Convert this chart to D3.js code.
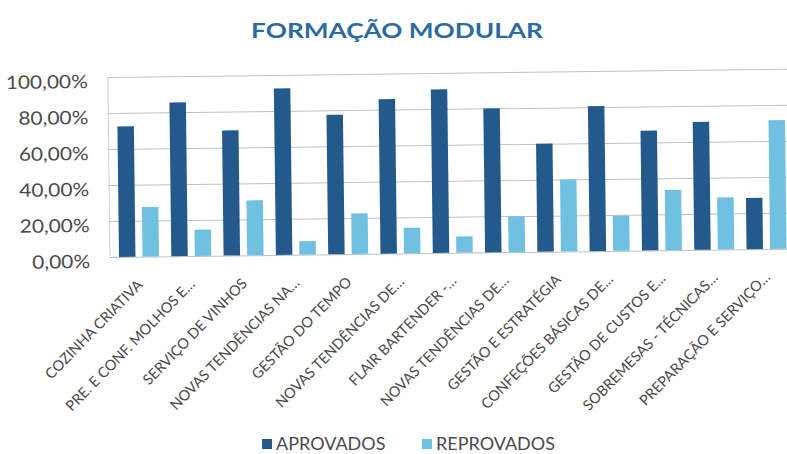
<!DOCTYPE html>
<html>
<head>
<meta charset="utf-8">
<script src="https://cdn.jsdelivr.net/npm/d3@7"></script>
<style>
  html, body { margin: 0; padding: 0; background: #ffffff; }
  svg { display: block; }
</style>
</head>
<body>
<script>
// Course modules and the share of trainees approved / failed in each
const categories = [
  "COZINHA CRIATIVA",
  "PRE. E CONF. MOLHOS E…",
  "SERVIÇO DE VINHOS",
  "NOVAS TENDÊNCIAS NA…",
  "GESTÃO DO TEMPO",
  "NOVAS TENDÊNCIAS DE…",
  "FLAIR BARTENDER -…",
  "NOVAS TENDÊNCIAS DE…",
  "GESTÃO E ESTRATÉGIA",
  "CONFEÇÕES BÁSICAS DE…",
  "GESTÃO DE CUSTOS E…",
  "SOBREMESAS - TÉCNICAS…",
  "PREPARAÇÃO E SERVIÇO…"
];
const aprovados  = [0.725, 0.854, 0.695, 0.925, 0.775, 0.858, 0.909, 0.800, 0.600, 0.805, 0.665, 0.710, 0.285];
const reprovados = [0.275, 0.146, 0.305, 0.075, 0.225, 0.142, 0.091, 0.200, 0.400, 0.195, 0.335, 0.290, 0.715];
const seriesNames = ["APROVADOS", "REPROVADOS"];
const yTicks = [0, 0.2, 0.4, 0.6, 0.8, 1.0];
const chartTitle = "FORMAÇÃO MODULAR";

const W = 787, H = 454;
const colors = { APROVADOS: "#245a8b", REPROVADOS: "#70c0e1" };
const font = "Lato, 'Open Sans', sans-serif";
const textColor = "#4a4a4a";

const ptLocale = d3.formatLocale({ decimal: ",", thousands: ".", grouping: [3], currency: ["", " €"], percent: "%" });
const fmtPct = ptLocale.format(".2%");

const svg = d3.select("body").append("svg")
  .attr("width", W).attr("height", H);

// the whole chart sits on a slight tilt
const root = svg.append("g").attr("transform", "rotate(-0.7, 110, 257)");

const plot = { left: 111, top: 77, bottom: 257, step: 52.3 };
const idx = d3.range(categories.length);

const x0 = d3.scaleBand()
  .domain(idx)
  .range([plot.left, plot.left + plot.step * categories.length])
  .padding(0);

const x1 = d3.scaleBand()
  .domain(seriesNames)
  .range([8, 48])
  .paddingInner(0.3);

const y = d3.scaleLinear().domain([0, 1]).range([plot.bottom, plot.top]);

// plot frame and gridlines
root.append("line")
  .attr("x1", plot.left - 1).attr("x2", plot.left - 1)
  .attr("y1", y(1)).attr("y2", y(0))
  .attr("stroke", "#cdd1d8").attr("stroke-width", 1);

const yAxis = d3.axisLeft(y)
  .tickValues(yTicks)
  .tickFormat(fmtPct)
  .tickSize(-(W + 20 - plot.left))
  .tickPadding(20);

const yg = root.append("g")
  .attr("transform", `translate(${plot.left - 1},0)`)
  .call(yAxis);
yg.select(".domain").remove();
yg.selectAll(".tick line").attr("stroke", "#bcc1c9").attr("stroke-width", 1);
yg.selectAll(".tick text")
  .attr("font-family", font)
  .attr("font-size", 18.5)
  .attr("fill", textColor)
  .attr("x", 0)
  .attr("dy", "0.55em")
  .attr("transform", "translate(-20,0) scale(1.13,1)");

// grouped bars
const rows = idx.map(i => ({ i, APROVADOS: aprovados[i], REPROVADOS: reprovados[i] }));

const groups = root.append("g").selectAll("g")
  .data(rows)
  .join("g")
  .attr("transform", d => `translate(${x0(d.i)},0)`);

groups.selectAll("rect")
  .data(d => seriesNames.map(k => ({ k, v: d[k] })))
  .join("rect")
  .attr("x", d => x1(d.k))
  .attr("width", x1.bandwidth())
  .attr("y", d => y(d.v))
  .attr("height", d => y(0) - y(d.v))
  .attr("fill", d => colors[d.k]);

// category axis with rotated labels
const xAxis = d3.axisBottom(x0)
  .tickFormat(i => categories[i])
  .tickSize(0)
  .tickPadding(0);

const xg = root.append("g")
  .attr("transform", `translate(0,${plot.bottom})`)
  .call(xAxis);
xg.select(".domain").remove();
xg.selectAll(".tick text")
  .attr("font-family", font)
  .attr("font-size", 14.5)
  .attr("fill", textColor)
  .attr("text-anchor", "end")
  .attr("y", 0)
  .attr("dy", 0)
  .attr("transform", "translate(6,29) rotate(-45)");

// title
svg.append("text")
  .attr("transform", "translate(397,38) scale(1.28,1)")
  .attr("text-anchor", "middle")
  .attr("font-family", font)
  .attr("font-weight", "bold")
  .attr("font-size", 20.5)
  .attr("fill", "#2d6aa2")
  .text(chartTitle);

// legend
const legendX = [262, 422];
const legend = svg.append("g").selectAll("g")
  .data(seriesNames)
  .join("g")
  .attr("transform", (d, i) => `translate(${legendX[i]},439)`);
legend.append("rect")
  .attr("width", 10).attr("height", 10)
  .attr("fill", d => colors[d]);
legend.append("text")
  .attr("x", 14).attr("y", 10.5)
  .attr("font-family", font)
  .attr("font-size", 18)
  .attr("fill", textColor)
  .text(d => d);
</script>
</body>
</html>
